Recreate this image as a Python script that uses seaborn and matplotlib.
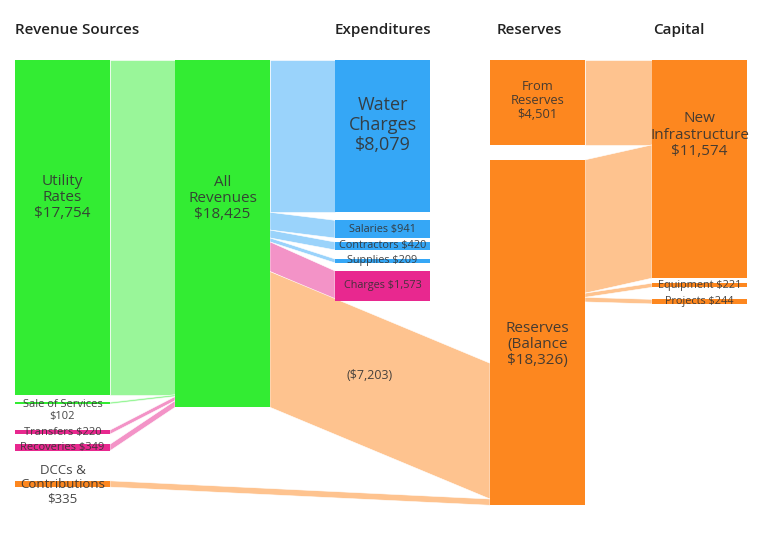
import numpy as np
import matplotlib
matplotlib.use('Agg')
import matplotlib.pyplot as plt
from matplotlib.colors import to_rgb
from matplotlib.patches import Rectangle, Polygon
import seaborn as sns

sns.set_theme(style='white')
plt.rcParams['font.family'] = ['Open Sans', 'DejaVu Sans']

# Datos: nodos
node_names = ['Utility Rates', 'Sale of Services', 'Transfers', 'Recoveries', 'DCCs & Contributions',
              'All Revenues',
              'Water Charges', 'Salaries', 'Contractors', 'Supplies', 'Charges',
              'From Reserves', 'Reserves Balance',
              'New Infrastructure', 'Equipment', 'Projects']
node_values = [17754, 102, 220, 349, 335,
               18425,
               8079, 941, 420, 209, 1573,
               4501, 18326,
               11574, 221, 244]
node_label_fmt = ['Utility\nRates\n${:,}', 'Sale of Services\n${:,}', 'Transfers ${:,}', 'Recoveries ${:,}',
                  'DCCs &\nContributions\n${:,}',
                  'All\nRevenues\n${:,}',
                  'Water\nCharges\n${:,}', 'Salaries ${:,}', 'Contractors ${:,}', 'Supplies ${:,}', 'Charges ${:,}',
                  'From\nReserves\n${:,}', 'Reserves\n(Balance\n${:,})',
                  'New\nInfrastructure\n${:,}', 'Equipment ${:,}', 'Projects ${:,}']
node_column = [0, 0, 0, 0, 0, 1, 2, 2, 2, 2, 2, 3, 3, 4, 4, 4]
column_titles = ['Revenue Sources', '', 'Expenditures', 'Reserves', 'Capital']

# Datos: flujos
link_source = ['Utility Rates', 'Sale of Services', 'Transfers', 'Recoveries',
               'All Revenues', 'All Revenues', 'All Revenues', 'All Revenues', 'All Revenues', 'All Revenues',
               'DCCs & Contributions',
               'From Reserves', 'Reserves Balance', 'Reserves Balance', 'Reserves Balance']
link_target = ['All Revenues', 'All Revenues', 'All Revenues', 'All Revenues',
               'Water Charges', 'Salaries', 'Contractors', 'Supplies', 'Charges', 'Reserves Balance',
               'Reserves Balance',
               'New Infrastructure', 'New Infrastructure', 'Equipment', 'Projects']
link_values = [17754, 102, 220, 349,
               8079, 941, 420, 209, 1573, 7203,
               335,
               4501, 7073, 221, 244]
link_labels = ['', '', '', '', '', '', '', '', '', '(${:,})', '', '', '', '', '']

# Estilo y disposicion
palette = {'green': '#33ec33', 'blue': '#35a7f6', 'pink': '#e8288f', 'orange': '#fd871f'}
node_colour = ['green', 'green', 'pink', 'pink', 'orange', 'green',
               'blue', 'blue', 'blue', 'blue', 'pink', 'orange', 'orange', 'orange', 'orange', 'orange']
link_colour = ['green', 'green', 'pink', 'pink', 'blue', 'blue', 'blue', 'blue', 'pink', 'orange',
               'orange', 'orange', 'orange', 'orange', 'orange']
gap_px = [0, 7.5, 26, 10, 30, 0, 0, 8, 4, 9, 8, 0, 15, 0, 5, 12]
in_align = {'Reserves Balance': 'bottom'}
label_dy = [-30, 7, 0, 0, 1, -35, -11, 0, 0, 0, 0, -2, 12, -34, 0, 0]
label_size = [11, 8, 8, 8, 9.5, 11, 13, 7.8, 7.8, 7.8, 7.8, 9.3, 11, 11, 7.8, 7.8]
label_spacing = [1.1, 1.15, 1, 1, 1.15, 1.1, 1.15, 1, 1, 1, 1, 1.1, 1.1, 1.1, 1, 1]
col_x = [15, 175, 335, 490, 652]
title_x = [15, 175, 335, 497, 653]
node_w = 95
s = 0.01885  # px por dolar
top_px = 60

def light(c):
    return tuple(np.array(to_rgb(c)) * 0.5 + 0.5)

fig = plt.figure(figsize=(7.68, 5.38), dpi=100)
ax = fig.add_axes([0, 0, 1, 1])
ax.set_xlim(0, 768)
ax.set_ylim((538 - top_px) / s, -top_px / s)
ax.axis('off')

# Posicion de nodos
idx = {n: i for i, n in enumerate(node_names)}
node_y = np.zeros(len(node_names))
cursor = {}
for i, v in enumerate(node_values):
    c = node_column[i]
    y = cursor.get(c, 0) + gap_px[i] / s
    node_y[i] = y
    cursor[c] = y + v

out_off = {n: 0.0 for n in node_names}
in_off = {}
for n in node_names:
    total_in = sum(v for t, v in zip(link_target, link_values) if t == n)
    in_off[n] = node_values[idx[n]] - total_in if in_align.get(n) == 'bottom' else 0.0

# Flujos
for k in range(len(link_values)):
    a, b, v = idx[link_source[k]], idx[link_target[k]], link_values[k]
    x0 = col_x[node_column[a]] + node_w
    x1 = col_x[node_column[b]]
    y0 = node_y[a] + out_off[link_source[k]]
    y1 = node_y[b] + in_off[link_target[k]]
    out_off[link_source[k]] += v
    in_off[link_target[k]] += v
    ax.add_patch(Polygon([(x0, y0), (x1, y1), (x1, y1 + v), (x0, y0 + v)], closed=True,
                         facecolor=light(palette[link_colour[k]]), edgecolor='white', lw=0.4, zorder=1))
    if link_labels[k]:
        ax.text((x0 + x1) / 2 - 10, (y0 + y1 + v) / 2 - 10 / s, link_labels[k].format(v),
                ha='center', va='center', fontsize=9, color='#333333', alpha=0.9, zorder=4)

# Nodos
for i, v in enumerate(node_values):
    x = col_x[node_column[i]]
    ax.add_patch(Rectangle((x, node_y[i]), node_w, v, facecolor=palette[node_colour[i]],
                           edgecolor='none', zorder=2))
    ax.text(x + node_w / 2, node_y[i] + v / 2 + label_dy[i] / s, node_label_fmt[i].format(v),
            ha='center', va='center', fontsize=label_size[i], color='#333333', alpha=0.9,
            linespacing=label_spacing[i], zorder=4)

# Titulos de columnas
for x, t in zip(title_x, column_titles):
    if t:
        ax.text(x, -30 / s, t, ha='left', va='center', fontsize=11, fontweight='semibold', color='#222222')

fig.savefig('out.png', dpi=100)
